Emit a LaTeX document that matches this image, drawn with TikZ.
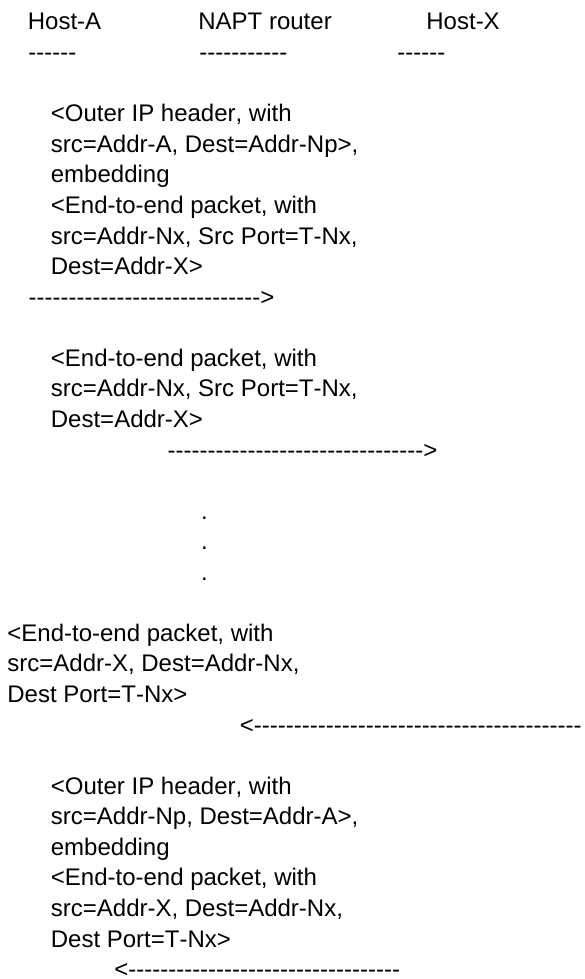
\documentclass[tikz,border=0pt]{standalone}
\usepackage{fontspec}
\newfontfamily\arialfont{Liberation Sans}[Ligatures=TeXOff,Kerning=Off]
\usepackage{tikz}

\begin{document}
\begin{tikzpicture}[x=0.5pt,y=-0.5pt,
    txt/.style={anchor=base west,inner sep=0pt,align=left,
      font=\arialfont\fontsize{12}{15.285}\selectfont}]
      \clip (0,0) rectangle (584,979);
      \node (hostA) [txt] at (27.5,30) {Host-A};
      \node (napt) [txt] at (198,30) {NAPT router};
      \node (hostX) [txt] at (426,30) {Host-X};
      \node (barA) [txt] at (28,60.6) {------};
      \node (barN) [txt] at (199,60.6) {-----------};
      \node (barX) [txt] at (397,60.6) {------};
%% blocks are placed by the baseline of their last line
      \node (pktAN) [txt] at (50.5,274.6) {<Outer IP header, with\\src=Addr-A, Dest=Addr-Np>,\\embedding\\<End-to-end packet, with\\src=Addr-Nx, Src Port=T-Nx,\\Dest=Addr-X>};
      \node (arrAN) [txt] at (28.2,305.1) {----------------------------->};
      \node (pktNX) [txt] at (50.5,427.4) {<End-to-end packet, with\\src=Addr-Nx, Src Port=T-Nx,\\Dest=Addr-X>};
      \node (arrNX) [txt] at (167.2,458) {-------------------------------->};
%%
      \node (dots) [txt] at (200.7,580.3) {.\\.\\.};
%%
      \node (pktXN) [txt] at (7,702.5) {<End-to-end packet, with\\src=Addr-X, Dest=Addr-Nx,\\Dest Port=T-Nx>};
      \node (arrXN) [txt] at (239.5,733.1) {<-----------------------------------------};
      \node (pktNA) [txt] at (50.5,947.1) {<Outer IP header, with\\src=Addr-Np, Dest=Addr-A>,\\embedding\\<End-to-end packet, with\\src=Addr-X, Dest=Addr-Nx,\\Dest Port=T-Nx>};
      \node (arrNA) [txt] at (113.9,977.7) {<----------------------------------};
    \end{tikzpicture}
\end{document}
